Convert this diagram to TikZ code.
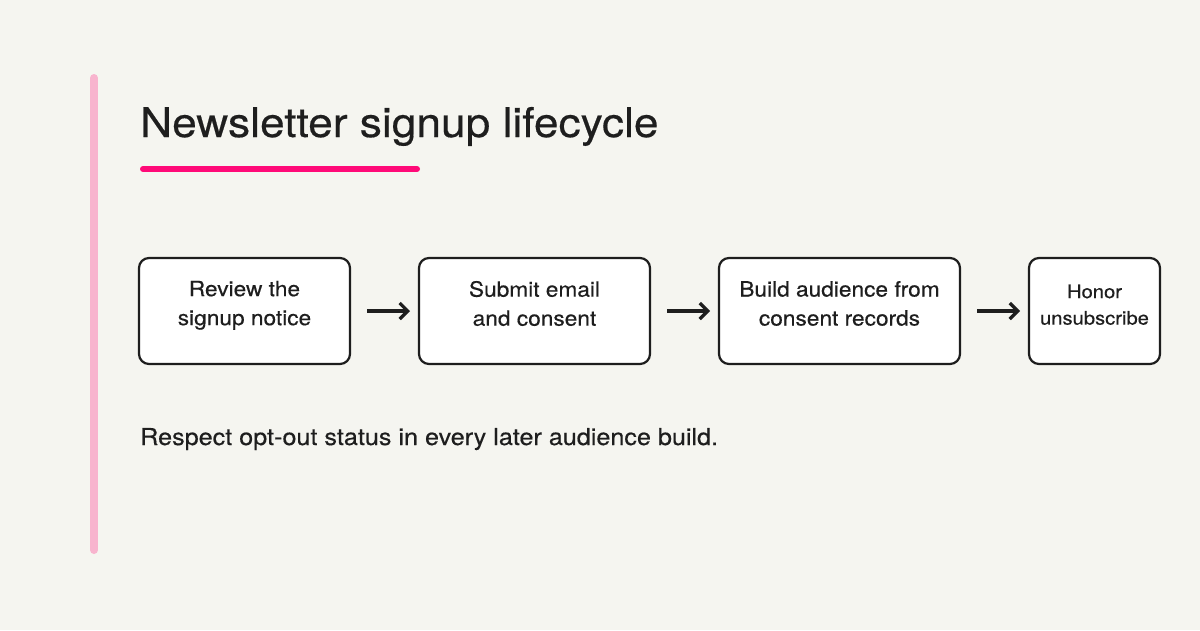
\documentclass[tikz,border=0pt]{standalone}
\usepackage{fontspec}
\setmainfont{TeX Gyre Heros}[FakeStretch=1.08, FakeBold=0.4]
\usetikzlibrary{arrows.meta,positioning}
\definecolor{paper}{HTML}{F5F5F0}
\definecolor{ink}{HTML}{1E1E1E}
\definecolor{barpink}{HTML}{F8B4CE}
\definecolor{accent}{HTML}{FF0A78}

\begin{document}
\begin{tikzpicture}[x=1pt, y=-1pt, node distance=69pt, >={Straight Barb[length=8pt,width=16pt]}]
\tikzstyle{stage}=[draw=ink, line width=2.2pt, rounded corners=10pt, fill=white, minimum height=106pt, inner sep=0pt, outer sep=0pt]
\tikzstyle{caption}=[text=ink, align=center, inner sep=0pt, font=\fontsize{21}{29}\selectfont]
\useasboundingbox[fill=paper] (0,0) rectangle (1200,630);
\draw[line width=8pt, line cap=round, barpink] (94,78) -- (94,550);
\node[anchor=base west, inner sep=0pt, text=ink, font=\fontsize{41}{48}\selectfont] (title) at (140,137) {Newsletter signup lifecycle};
\draw[line width=6pt, line cap=round, accent] (143,169) -- (417,169);
% the four steps
\node[stage, minimum width=211pt, anchor=north west] (A) at (139,258) {};
\node[stage, minimum width=231pt, right=of A] (B) {};
\node[stage, minimum width=241pt, right=of B] (C) {};
\node[stage, minimum width=131pt, right=of C] (D) {};
\node[caption] (tA) at ([yshift=5.7pt]A.center) {Review the\\signup notice};
\node[caption] (tB) at ([yshift=7.5pt]B.center) {Submit email\\and consent};
\node[caption] (tC) at ([yshift=7.5pt]C.center) {Build audience from\\consent records};
\node[caption, font=\fontsize{18.7}{26.5}\selectfont] (tD) at ([yshift=6.3pt]D.center) {Honor\\unsubscribe};
\path[->, line width=3.2pt, draw=ink, shorten <=17pt, shorten >=9pt]
(A) edge (B)
(B) edge (C)
(C) edge (D);
\node[anchor=base west, inner sep=0pt, text=ink, font=\fontsize{23.3}{28}\selectfont] (note) at (140,445) {Respect opt-out status in every later audience build.};
\end{tikzpicture}
\end{document}
